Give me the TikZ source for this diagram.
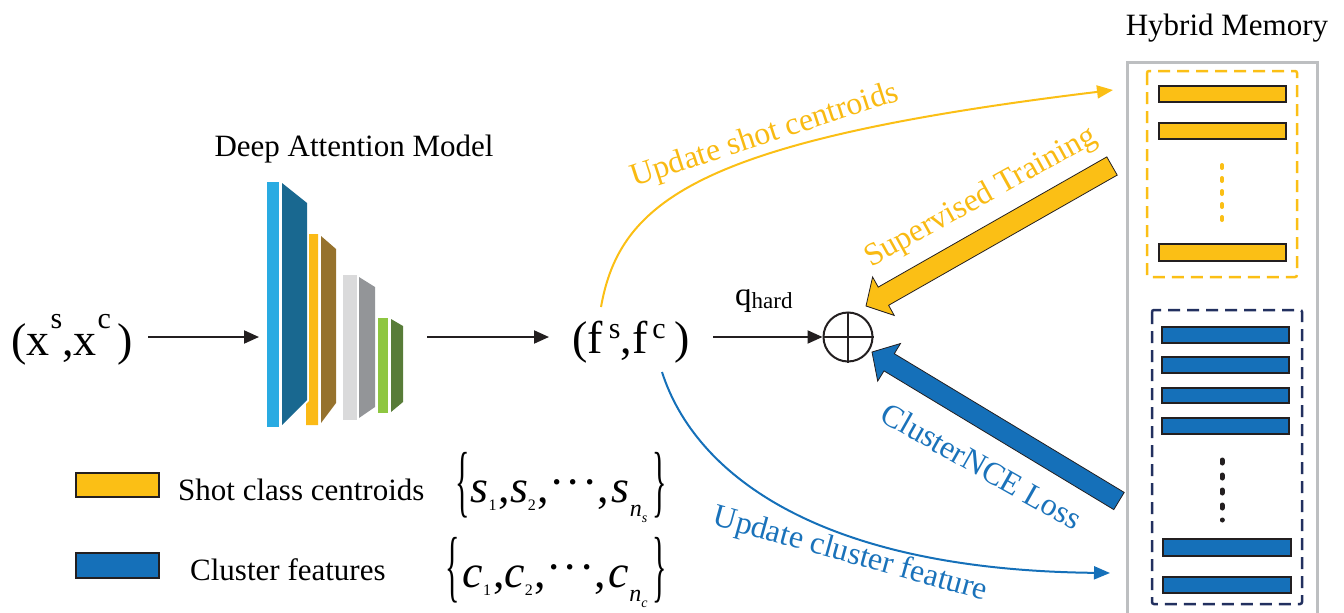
\RequirePackage{fix-cm}
\documentclass[tikz,border=0pt]{standalone}
\usepackage{fontspec}
\usepackage{graphicx}
\setmainfont{Liberation Serif}
\usetikzlibrary{arrows.meta}
\definecolor{ylw}{HTML}{FBBF15}
\definecolor{ylwtxt}{HTML}{F9BA12}
\definecolor{blu}{HTML}{1570B9}
\definecolor{blutxt}{HTML}{1A72BA}
\definecolor{navy}{HTML}{22305F}
\definecolor{memgray}{HTML}{BDBFC1}
\definecolor{lblue}{HTML}{29ABE2}
\definecolor{dblue}{HTML}{196890}
\definecolor{lyel}{HTML}{FBBA16}
\definecolor{brwn}{HTML}{96722D}
\definecolor{lgray}{HTML}{DADADB}
\definecolor{dgray}{HTML}{939598}
\definecolor{lgreen}{HTML}{8EC641}
\definecolor{dgreen}{HTML}{587C38}
\definecolor{ink}{HTML}{231F20}
\newcommand\supx[2]{\raisebox{#1}{\fontsize{30}{30}\selectfont #2}}
\newcommand\lsub[1]{\raisebox{-8pt}{\fontsize{16}{16}\selectfont #1}}
\newcommand\lsubn[1]{\raisebox{-14pt}{\fontsize{24}{24}\selectfont\textit{n}}\raisebox{-20pt}{\fontsize{14}{14}\selectfont\textit{#1}}}
\newcommand\myLbr{\raisebox{-5pt}{\scalebox{1}[2.65]{\fontsize{30}{30}\selectfont\{}}}
\newcommand\myRbr{\raisebox{-5pt}{\scalebox{1}[2.65]{\fontsize{30}{30}\selectfont\}}}}
\newcommand\mydots{\raisebox{5pt}{·\hspace{1pt}·\hspace{1pt}·}}
\begin{document}
\begin{tikzpicture}[x=1pt,y=-1pt,
  font=\fontsize{31}{36}\selectfont,
  arr/.style={line width=2pt, draw=ink, -{Triangle[length=15pt,width=13pt]}},
  bar/.style={draw=ink, line width=2pt},
  lbl/.style={font=\fontsize{32}{38}\selectfont, inner sep=0pt},
  bigtxt/.style={font=\fontsize{46}{50}\selectfont, inner sep=0pt},
  settxt/.style={font=\fontsize{46}{50}\selectfont, inner sep=0pt},
  blockarrow/.style={draw=ink, line width=0.8pt}
]
\useasboundingbox (0,0) rectangle (1344,613);

% ---- input
\node[bigtxt, anchor=base west] (xin) at (11,355) {(x\hspace{1pt}\supx{27pt}{s},x\hspace{1pt}\supx{27pt}{c}\hspace{6pt})};

% ---- model
\node[inner sep=0pt, minimum width=162pt, minimum height=250pt] (model) at (341,304) {};
\fill[lblue] (267,182) rectangle (279,427);
\fill[dblue] (282,183) -- (307,203) -- (307,400) -- (282,425) -- cycle;
\fill[lyel] (309,234) -- (318,234) -- (318,425) -- (306,425) -- (306,404) -- (309,401) -- cycle;
\fill[brwn] (321,236) -- (336,249) -- (336,403) -- (321,423) -- cycle;
\fill[lgray] (343,275) rectangle (357,420);
\fill[dgray] (359,277) -- (375,287) -- (375,407) -- (359,418) -- cycle;
\fill[lgreen] (378,318) rectangle (388,413);
\fill[dgreen] (391,319) -- (403,326) -- (403,402) -- (391,412) -- cycle;
\node[anchor=base] (modeltitle) at (354,156) {Deep Attention Model};

% ---- features
\node[bigtxt, anchor=base west] (fs) at (572,353) {(f\hspace{6pt}\supx{15pt}{s},f\hspace{5pt}\supx{15pt}{c}\hspace{9pt})};
\node[circle, draw=ink, line width=2pt, minimum size=49pt, inner sep=0pt] (op) at (848,337) {};
\draw[ink, line width=2pt] (op.north) -- (op.south) (op.west) -- (op.east);

\coordinate (xout) at (148,337);
\coordinate (modin) at (259,337);
\coordinate (modout) at (427,337);
\coordinate (fsin) at (549,337);
\coordinate (fsout) at (713,337);
\draw[arr] (xout) -- (modin);
\draw[arr] (modout) -- (fsin);
\draw[arr] (fsout) -- (op.west);
\node[anchor=base west, inner sep=0pt, font=\fontsize{33}{36}\selectfont] (q) at (735,305) {q\raisebox{-3pt}{\fontsize{23}{26}\selectfont hard}};

% ---- hybrid memory
\node[anchor=base] (memtitle) at (1227,35) {Hybrid Memory};
\draw[memgray, line width=3pt] (1127,616) -- (1127,62) -- (1317,62) -- (1317,616);
\draw[ylw, line width=2.5pt, dash pattern=on 12pt off 7pt, rounded corners=2pt] (1147,71) rectangle (1297,277);
\draw[navy, line width=2.5pt, dash pattern=on 12pt off 7pt, rounded corners=2pt] (1152,310) rectangle (1302,604);
\foreach \ya/\yb in {86/102,123/139,244/261}
  \filldraw[bar, fill=ylw] (1159,\ya) rectangle (1286,\yb);
\foreach \ya/\yb in {327/343,357/373,388/403,418/434}
  \filldraw[bar, fill=blu] (1162,\ya) rectangle (1289,\yb);
\foreach \ya/\yb in {539/556,577/593}
  \filldraw[bar, fill=blu] (1163,\ya) rectangle (1291,\yb);
\draw[ylw, line width=4pt, line cap=round, dash pattern=on 3pt off 10pt] (1222,165) -- (1222,224);
\draw[ink, line width=5pt, line cap=round, dash pattern=on 3pt off 12pt] (1222,460) -- (1222,520);

% ---- curved update arrows
\coordinate (fstop) at (601,307);
\coordinate (memtopin) at (1113,90);
\coordinate (fsbot) at (662,372);
\coordinate (membotin) at (1110,573);
\draw[ylw, line width=2pt, -{Triangle[length=16pt,width=13pt]}] (fstop) .. controls (620,200) and (700,140) .. (memtopin);
\draw[blu, line width=2pt, -{Triangle[length=16pt,width=13pt]}] (fsbot) .. controls (695,475) and (820,570) .. (membotin);
\node[lbl, text=ylwtxt, rotate=18] (lshot) at (765,136) {Update shot centroids};
\node[lbl, text=blutxt, rotate=-15.5] (lclu) at (850,555) {Update cluster feature};

% ---- block arrows
\filldraw[blockarrow, fill=ylw] (1117.2,175.1) -- (1106.8,156.9) -- (878.2,287.1) -- (872.6,277.0)
   -- (866,306) -- (894.2,315.4) -- (888.6,305.3) -- cycle;
\filldraw[blockarrow, fill=blu] (1113.8,509.6) -- (1124.2,492.4) -- (894.3,353.7) -- (900.5,343.5)
   -- (872,352) -- (877.7,381.1) -- (884.0,370.9) -- cycle;
\node[lbl, text=ylwtxt, rotate=29] (lsup) at (981,198) {Supervised Training};
\node[lbl, text=blutxt, rotate=-29.5] (lnce) at (982,466) {ClusterNCE Loss};

% ---- legend
\filldraw[bar, fill=ylw] (76,473) rectangle (159,497);
\filldraw[bar, fill=blu] (76,553) rectangle (159,578);
\node[anchor=base west, inner sep=0pt] (lgs) at (178,500) {Shot class centroids};
\node[anchor=base west, inner sep=0pt] (lgc) at (190,580) {Cluster features};
\node[settxt, anchor=base west] (sets) at (455,502)
  {\myLbr\hspace{1pt}\textit{s}\lsub{1}\hspace{2pt},\textit{s}\lsub{2}\hspace{2pt},\mydots,\hspace{3pt}\textit{s}\lsubn{s}\hspace{5pt}\myRbr};
\node[settxt, anchor=base west] (setc) at (445,587)
  {\myLbr\hspace{3pt}\textit{c}\lsub{1}\hspace{2pt},\textit{c}\lsub{2}\hspace{2pt},\mydots,\hspace{3pt}\textit{c}\lsubn{c}\hspace{5pt}\myRbr};
\end{tikzpicture}
\end{document}
